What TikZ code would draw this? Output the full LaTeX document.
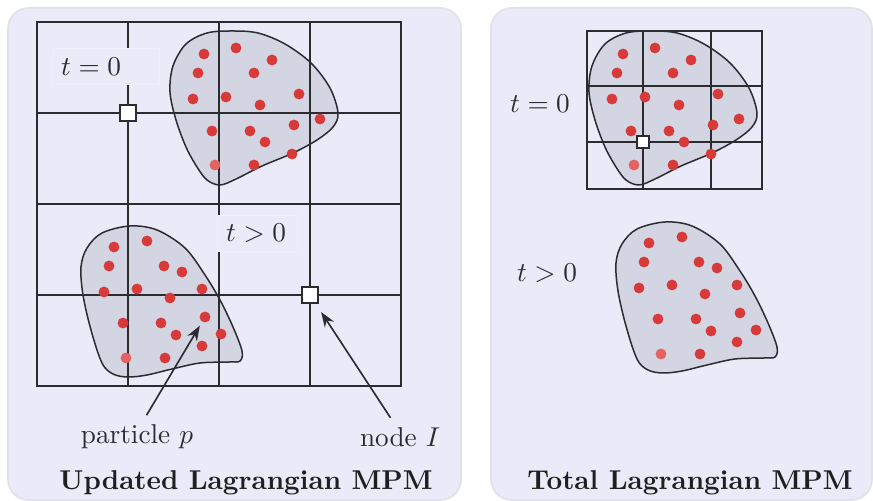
\documentclass[tikz,border=0pt]{standalone}
\usepackage{amsmath}
\usetikzlibrary{arrows.meta,positioning,calc}
\definecolor{ink}{HTML}{2B2B30}
\definecolor{panelbg}{HTML}{EAEAF8}
\definecolor{panelrim}{HTML}{E1E1E9}
\definecolor{blobgrey}{HTML}{D3D5E3}
\definecolor{red1}{HTML}{D73A38}
\definecolor{red2}{HTML}{E36262}
% outlines of the body, at t=0 and t>0
\newcommand{\bodyzero}{plot[smooth cycle,tension=0.55] coordinates {(220,185) (207,180) (197,167) (186,147) (176,120) (170,92) (173,66) (186,44) (207,33) (232,31) (258,33) (285,44) (311,63) (330,88) (338,113) (333,127) (317,140) (293,153) (262,166) (236,179)}}
\newcommand{\bodymoved}{plot[smooth cycle,tension=0.55] coordinates {(130,226) (157,230) (185,248) (205,275) (220,300) (233,327) (242,351) (240,361) (229,362) (200,363) (172,369) (147,375) (128,377) (113,374) (102,363) (91,330) (83,295) (81,267) (87,248) (102,233)}}
\newcommand{\ptszero}{(204,54),(236,48),(272,60),(198,73),(254,73),(193,99),(226,97),(260,105),(299,94),(320,119),(212,131),(250,131),(294,125),(265,142),(292,154),(254,165)}
\newcommand{\ptsmoved}{(114,247),(147,241),(109,266),(164,266),(182,272),(104,292),(137,289),(170,298),(202,289),(123,323),(161,323),(176,335),(221,334),(202,346),(165,358)}

\begin{document}
\begin{tikzpicture}[x=0.367pt,y=-0.367pt,color=ink,
  panel/.style={fill=panelbg,draw=panelrim,line width=0.6pt,rounded corners=7.5pt},
  body/.style={fill=blobgrey,draw=ink,line width=0.55pt},
  gridline/.style={draw=ink,line width=0.55pt},
  gridframe/.style={draw=ink,line width=0.95pt},
  ptc/.style={circle,fill=red1,inner sep=0pt,minimum size=4pt},
  ptcpale/.style={ptc,fill=red2},
  gridnode/.style={rectangle,draw=ink,fill=white,line width=0.85pt,inner sep=0pt,minimum size=5.8pt},
  tbox/.style={fill=panelbg,draw=white!25!panelbg,line width=0.3pt,inner xsep=3.2pt,minimum height=9.2pt,align=left},
  title/.style={font=\bfseries,text=black!88},
  pointer/.style={-{Stealth[length=5.5pt,width=4pt]},line width=0.6pt,draw=ink}]
  \useasboundingbox (0,0) rectangle (873,501);
  \path[panel] (8,8) rectangle (461,500);
  \path[panel] (491,8) rectangle (872,500);
  % updated Lagrangian: the grid stays, the body moves through it
  \filldraw[body] \bodyzero; \filldraw[body] \bodymoved;
  \foreach \x in {128,219,310} \draw[gridline] (\x,22) -- (\x,386);
  \foreach \y in {113,204,295} \draw[gridline] (37,\y) -- (401,\y);
  \draw[gridframe] (37,22) rectangle (401,386);
  \foreach \p in \ptszero \node[ptc] at \p {};
  \node[ptcpale] at (215,165) {};
  \foreach \p in \ptsmoved \node[ptc] at \p {};
  \node[ptcpale] at (126,358) {};
  \node[ptc] (pp) at (205,317) {};
  \node[gridnode] at (128,113) {};
  \node[gridnode] (nI) at (310,295) {};
  \node[tbox,text width=33pt,anchor=west] (tzero) at (52,66.5) {$t=0$};
  \node[tbox,text width=23pt,anchor=west] (tpos) at (217,233.5) {$t>0$};
  \node (lblp) at (137,437) {particle $p$};
  \node (lblI) at (400,437) {node $I$};
  \draw[pointer,shorten >=1.5pt] ([xshift=3.5pt]lblp.north) -- (pp);
  \draw[pointer,shorten >=3.5pt] ([xshift=-3.5pt]lblI.north) -- (nI);
  \node[title] (titleUL) at (246,483) {Updated Lagrangian MPM};
  % total Lagrangian: the grid is tied to the reference body
  \begin{scope}[shift={(419,0)}]
    \filldraw[body] \bodyzero;
  \end{scope}
  \foreach \x in {643,711} \draw[gridline] (\x,31) -- (\x,189);
  \foreach \y in {86,142} \draw[gridline] (587,\y) -- (762,\y);
  \draw[gridframe,line width=0.75pt] (587,31) rectangle (762,189);
  \begin{scope}[shift={(419,0)}]
    \foreach \p in \ptszero \node[ptc] at \p {};
    \node[ptcpale] at (215,165) {};
  \end{scope}
  \node[gridnode,minimum size=4.4pt,line width=0.7pt] (nref) at (643,142) {};
  \begin{scope}[shift={(535,-4)}]
    \filldraw[body] \bodymoved;
    \foreach \p in \ptsmoved \node[ptc] at \p {};
    \node[ptcpale] at (126,358) {}; \node[ptc] at (205,317) {};
  \end{scope}
  \node (tzeroR) at (540,104) {$t=0$};
  \node (tposR) at (547,273) {$t>0$};
  \node[title] (titleTL) at (690,483) {Total Lagrangian MPM};
\end{tikzpicture}
\end{document}
